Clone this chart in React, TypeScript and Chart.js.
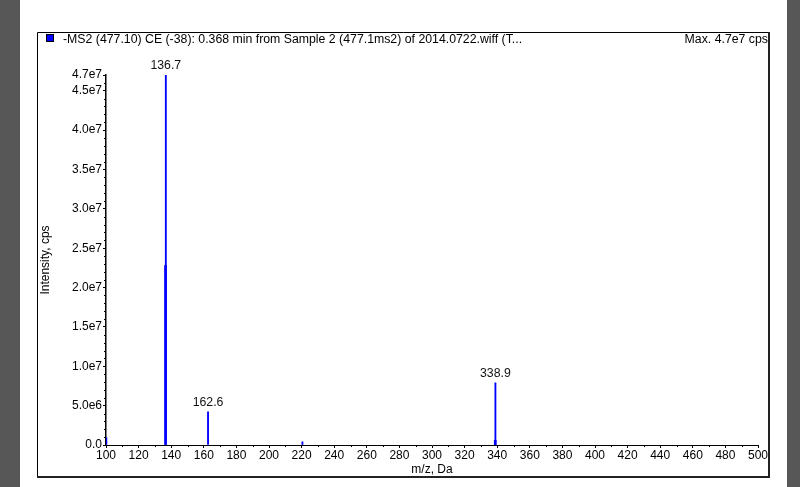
import React, { useEffect, useRef } from "react";
import { Chart, registerables } from "chart.js";
Chart.register(...registerables);

// ---- data ----
const peakMz = [100.2, 136.7, 162.6, 220.5, 338.6, 338.9];
const peakIntensity = [0.9e6, 4.7e7, 4.2e6, 0.4e6, 0.6e6, 7.9e6];
const shoulderMz = [136.5, 338.8];
const shoulderIntensity = [2.28e7, 0.6e6];
const labeledMz = [136.7, 162.6, 338.9];
const labeledIntensity = [4.7e7, 4.2e6, 7.9e6];
const yTickValues = [0, 5e6, 1e7, 1.5e7, 2e7, 2.5e7, 3e7, 3.5e7, 4e7, 4.5e7, 4.7e7];
const xMin = 100;
const xMax = 500;
const xStep = 20;
const xMinorStep = 10;
const yMax = 4.7e7;
const yMinorStep = 1e6;
const titleText =
  "-MS2 (477.10) CE (-38): 0.368 min from Sample 2 (477.1ms2) of 2014.0722.wiff (T...";
const maxText = "Max. 4.7e7 cps";
const xTitle = "m/z, Da";
const yTitle = "Intensity, cps";

const FONT = "'Liberation Sans', Arial, sans-serif";

const fmtY = (v: number) => {
  if (v === 0) return "0.0";
  return v.toExponential(1).replace("e+", "e");
};

const framePlugin = {
  id: "frame",
  beforeDraw(chart: any) {
    const ctx = chart.ctx;
    const W = chart.width;
    const H = chart.height;
    ctx.save();
    ctx.fillStyle = "#ffffff";
    ctx.fillRect(0, 0, W, H);
    ctx.fillStyle = "#575757";
    ctx.fillRect(0, 0, 20, H);
    ctx.fillRect(787, 0, W - 787, H);
    // frame
    ctx.strokeStyle = "#000";
    ctx.lineWidth = 1;
    ctx.beginPath();
    ctx.moveTo(37.5, 478);
    ctx.lineTo(37.5, 32.5);
    ctx.lineTo(769, 32.5);
    ctx.stroke();
    ctx.lineWidth = 2;
    ctx.strokeStyle = "#222";
    ctx.beginPath();
    ctx.moveTo(769, 32);
    ctx.lineTo(769, 477);
    ctx.lineTo(37, 477);
    ctx.stroke();
    // header
    ctx.fillStyle = "#0000ff";
    ctx.fillRect(46, 34, 8, 8);
    ctx.lineWidth = 1;
    ctx.strokeStyle = "#000";
    ctx.strokeRect(46.5, 34.5, 7, 7);
    ctx.fillStyle = "#000";
    ctx.font = `12.3px ${FONT}`;
    ctx.textBaseline = "middle";
    ctx.textAlign = "left";
    ctx.fillText(titleText, 63, 40);
    ctx.textAlign = "right";
    ctx.fillText(maxText, 768, 40);
    ctx.restore();
  },
};

const minorTicksPlugin = {
  id: "minorTicks",
  afterDraw(chart: any) {
    const ctx = chart.ctx;
    const xs = chart.scales.x;
    const ys = chart.scales.y;
    const area = chart.chartArea;
    ctx.save();
    ctx.strokeStyle = "#000";
    ctx.lineWidth = 1;
    ctx.beginPath();
    for (let v = xMin + xMinorStep; v < xMax; v += xMinorStep) {
      if (v % xStep === 0) continue;
      const px = Math.round(xs.getPixelForValue(v)) + 0.5;
      ctx.moveTo(px, area.bottom);
      ctx.lineTo(px, area.bottom + 2);
    }
    for (let v = yMinorStep; v < yMax; v += yMinorStep) {
      if (yTickValues.some((t) => Math.abs(t - v) < 1)) continue;
      const py = Math.round(ys.getPixelForValue(v)) + 0.5;
      ctx.moveTo(area.left, py);
      ctx.lineTo(area.left - 2, py);
    }
    ctx.stroke();
    ctx.restore();
  },
};

const peakLabelPlugin = {
  id: "peakLabels",
  afterDatasetsDraw(chart: any) {
    const ctx = chart.ctx;
    const xs = chart.scales.x;
    const ys = chart.scales.y;
    ctx.save();
    ctx.fillStyle = "#111";
    ctx.font = `12.3px ${FONT}`;
    ctx.textAlign = "center";
    ctx.textBaseline = "bottom";
    labeledMz.forEach((mz, i) => {
      const px = xs.getPixelForValue(mz);
      const py = ys.getPixelForValue(labeledIntensity[i]);
      ctx.fillText(mz.toFixed(1), px, py - 3);
    });
    ctx.restore();
  },
};

export default function App() {
  const ref = useRef<HTMLCanvasElement | null>(null);
  useEffect(() => {
    if (!ref.current) return;
    Chart.defaults.font.family = FONT;
    Chart.defaults.font.size = 12;
    Chart.defaults.color = "#000";
    const chart = new Chart(ref.current, {
      type: "bar",
      data: {
        datasets: [
          {
            label: "-MS2",
            data: peakMz.map((m, i) => ({ x: m, y: peakIntensity[i] })),
            backgroundColor: "#0000ff",
            borderWidth: 0,
            barThickness: 1.2,
            grouped: false,
          } as any,
          {
            label: "shoulder",
            data: shoulderMz.map((m, i) => ({ x: m, y: shoulderIntensity[i] })),
            backgroundColor: "#0000ff",
            borderWidth: 0,
            barThickness: 2,
            grouped: false,
          } as any,
        ],
      },
      options: {
        animation: false,
        responsive: false,
        devicePixelRatio: 1,
        layout: { padding: { left: 0, right: 42, top: 75, bottom: 0 } },
        plugins: {
          legend: { display: false },
          tooltip: { enabled: false },
          title: { display: false },
        },
        scales: {
          x: {
            type: "linear",
            min: xMin,
            max: xMax,
            offset: false,
            afterFit: (s: any) => {
              s.height = 42;
            },
            ticks: {
              stepSize: xStep,
              autoSkip: false,
              maxRotation: 0,
              padding: 0,
              color: "#000",
              font: { size: 12, family: FONT },
            },
            grid: {
              offset: false,
              drawOnChartArea: false,
              drawTicks: true,
              tickLength: 3,
              color: "#000",
            },
            border: { display: true, color: "#000", width: 1 },
            title: {
              display: true,
              text: xTitle,
              color: "#000",
              font: { size: 12, family: FONT },
              padding: { top: 0, bottom: 10 },
            },
          },
          y: {
            type: "linear",
            min: 0,
            max: yMax,
            afterFit: (s: any) => {
              s.width = 106;
            },
            afterBuildTicks: (s: any) => {
              s.ticks = yTickValues.map((v) => ({ value: v }));
            },
            ticks: {
              autoSkip: false,
              padding: 1,
              color: "#000",
              font: { size: 12, family: FONT },
              callback: (v: any) => fmtY(Number(v)),
            },
            grid: {
              drawOnChartArea: false,
              drawTicks: true,
              tickLength: 3,
              color: "#000",
            },
            border: { display: true, color: "#000", width: 1.5 },
            title: {
              display: true,
              text: yTitle,
              color: "#000",
              font: { size: 12, family: FONT },
              padding: { top: 38, bottom: 0 },
            },
          },
        },
      } as any,
      plugins: [framePlugin, minorTicksPlugin, peakLabelPlugin],
    });
    return () => chart.destroy();
  }, []);
  return (
    <div style={{ position: "absolute", left: 0, top: 0, width: 800, height: 487 }}>
      <canvas ref={ref} width={800} height={487} style={{ display: "block" }} />
    </div>
  );
}
